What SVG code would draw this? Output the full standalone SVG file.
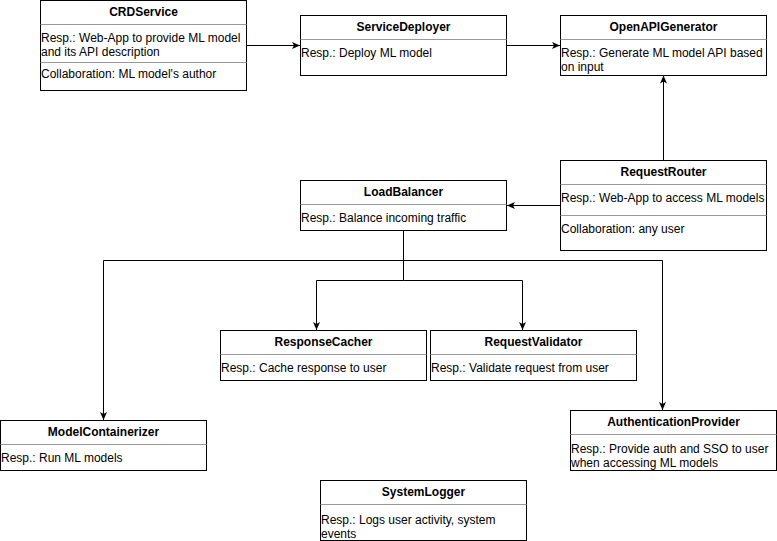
<svg xmlns="http://www.w3.org/2000/svg" width="777" height="541" viewBox="0 0 777 541">
  <defs>
    <marker id="arrow" markerUnits="userSpaceOnUse" markerWidth="8" markerHeight="8" viewBox="0 0 8 8" refX="8" refY="4" orient="auto">
      <path d="M0,0.5 L8,4 L0,7.5 L2,4 Z" fill="#000"/>
    </marker>
  </defs>
  <style>
    .box { fill: #fff; stroke: #000; stroke-width: 1; }
    .sep { stroke: #999; stroke-width: 1; }
    .title { font-family: "Liberation Sans", Arial, sans-serif; font-size: 12px; font-weight: bold; text-anchor: middle; fill: #000; }
    .body { font-family: "Liberation Sans", Arial, sans-serif; font-size: 12px; fill: #000; }
    .conn { fill: none; stroke: #000; stroke-width: 1; }
  </style>
  <rect width="777" height="541" fill="#fff"/>

  <g id="connectors">
    <path class="conn" d="M246.5,45.5 H300" marker-end="url(#arrow)"/>
    <path class="conn" d="M506.5,45.5 H560" marker-end="url(#arrow)"/>
    <path class="conn" d="M663.5,160.5 V75.5" marker-end="url(#arrow)"/>
    <path class="conn" d="M560.5,205.5 H507" marker-end="url(#arrow)"/>
    <path class="conn" d="M403.5,230.5 V280.5 H316.5 V330" marker-end="url(#arrow)"/>
    <path class="conn" d="M403.5,280.5 H522.5 V330" marker-end="url(#arrow)"/>
    <path class="conn" d="M403.5,230.5 V260.5 H103.5 V420" marker-end="url(#arrow)"/>
    <path class="conn" d="M403.5,260.5 H662.5 V410" marker-end="url(#arrow)"/>
  </g>

  <g id="CRDService">
    <rect class="box" x="40.5" y="0.5" width="206" height="90"/>
    <line class="sep" x1="40.5" y1="24.5" x2="246.5" y2="24.5"/>
    <line class="sep" x1="40.5" y1="62.5" x2="246.5" y2="62.5"/>
    <text class="title" x="143.5" y="16">CRDService</text>
    <text class="body" x="41" y="42">Resp.: Web-App to provide ML model</text>
    <text class="body" x="41" y="56">and its API description</text>
    <text class="body" x="41" y="78">Collaboration: ML model's author</text>
  </g>

  <g id="ServiceDeployer">
    <rect class="box" x="300.5" y="15.5" width="206" height="60"/>
    <line class="sep" x1="300.5" y1="39.5" x2="506.5" y2="39.5"/>
    <text class="title" x="403.5" y="31">ServiceDeployer</text>
    <text class="body" x="301" y="57">Resp.: Deploy ML model</text>
  </g>

  <g id="OpenAPIGenerator">
    <rect class="box" x="560.5" y="15.5" width="206" height="60"/>
    <line class="sep" x1="560.5" y1="39.5" x2="766.5" y2="39.5"/>
    <text class="title" x="663.5" y="31">OpenAPIGenerator</text>
    <text class="body" x="561" y="57">Resp.: Generate ML model API based</text>
    <text class="body" x="561" y="71">on input</text>
  </g>

  <g id="RequestRouter">
    <rect class="box" x="560.5" y="160.5" width="206" height="90"/>
    <line class="sep" x1="560.5" y1="184.5" x2="766.5" y2="184.5"/>
    <line class="sep" x1="560.5" y1="215.5" x2="766.5" y2="215.5"/>
    <text class="title" x="663.5" y="176">RequestRouter</text>
    <text class="body" x="561" y="202">Resp.: Web-App to access ML models</text>
    <text class="body" x="561" y="233">Collaboration: any user</text>
  </g>

  <g id="LoadBalancer">
    <rect class="box" x="300.5" y="180.5" width="206" height="50"/>
    <line class="sep" x1="300.5" y1="204.5" x2="506.5" y2="204.5"/>
    <text class="title" x="403.5" y="196">LoadBalancer</text>
    <text class="body" x="301" y="222">Resp.: Balance incoming traffic</text>
  </g>

  <g id="ResponseCacher">
    <rect class="box" x="220.5" y="330.5" width="206" height="50"/>
    <line class="sep" x1="220.5" y1="354.5" x2="426.5" y2="354.5"/>
    <text class="title" x="323.5" y="346">ResponseCacher</text>
    <text class="body" x="221" y="372">Resp.: Cache response to user</text>
  </g>

  <g id="RequestValidator">
    <rect class="box" x="430.5" y="330.5" width="206" height="50"/>
    <line class="sep" x1="430.5" y1="354.5" x2="636.5" y2="354.5"/>
    <text class="title" x="533.5" y="346">RequestValidator</text>
    <text class="body" x="431" y="372">Resp.: Validate request from user</text>
  </g>

  <g id="ModelContainerizer">
    <rect class="box" x="0.5" y="420.5" width="206" height="50"/>
    <line class="sep" x1="0.5" y1="444.5" x2="206.5" y2="444.5"/>
    <text class="title" x="103.5" y="436">ModelContainerizer</text>
    <text class="body" x="1" y="462">Resp.: Run ML models</text>
  </g>

  <g id="AuthenticationProvider">
    <rect class="box" x="570.5" y="410.5" width="206" height="60"/>
    <line class="sep" x1="570.5" y1="434.5" x2="776.5" y2="434.5"/>
    <text class="title" x="673.5" y="426">AuthenticationProvider</text>
    <text class="body" x="571" y="453">Resp.: Provide auth and SSO to user</text>
    <text class="body" x="571" y="467">when accessing ML models</text>
  </g>

  <g id="SystemLogger">
    <rect class="box" x="320.5" y="480.5" width="206" height="60"/>
    <line class="sep" x1="320.5" y1="504.5" x2="526.5" y2="504.5"/>
    <text class="title" x="423.5" y="496">SystemLogger</text>
    <text class="body" x="321" y="524">Resp.: Logs user activity, system</text>
    <text class="body" x="321" y="538">events</text>
  </g>
</svg>
